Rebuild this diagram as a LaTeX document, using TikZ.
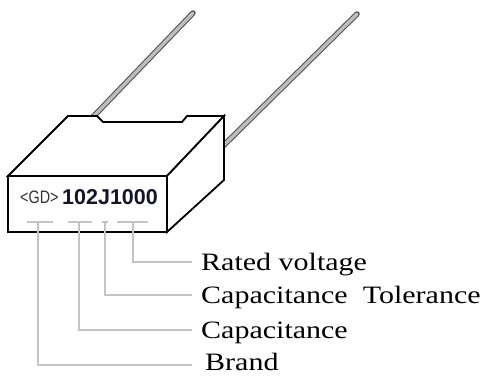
\documentclass[tikz,border=0pt]{standalone}
\usepackage{fontspec}
\setmainfont{Liberation Serif}
\newfontfamily\lblfont[FakeStretch=1.2]{Liberation Serif}
\newfontfamily\digfont{Liberation Sans}
\newfontfamily\logofont[FakeStretch=0.8]{Liberation Sans}
\definecolor{leader}{HTML}{C4C4C4}
\definecolor{leadfill}{HTML}{BDBDBD}
\definecolor{leadedge}{HTML}{505050}
\definecolor{marking}{HTML}{14142A}
\begin{document}
\begin{tikzpicture}[x=1pt,y=-1pt,
  box/.style={draw=black,line width=1.8pt,fill=white,line join=miter},
  wireedge/.style={line width=5.5pt,draw=leadedge,line cap=round},
  wirecore/.style={line width=3.4pt,draw=leadfill,line cap=round},
  leaderline/.style={draw=leader,line width=1.3pt},
  lbl/.style={anchor=west,inner sep=0pt,font=\lblfont\fontsize{25}{30}\selectfont,text height=16.5pt,text depth=0pt}]
\useasboundingbox (0,0) rectangle (490,376);
% leads
\draw[wireedge] (92,118) -- (193,13);
\draw[wirecore] (92,118) -- (193,13);
\draw[wireedge] (222,147) -- (357,14);
\draw[wirecore] (222,147) -- (357,14);
% body
\filldraw[box] (8,176) -- (68,116) -- (97,116) -- (103,122) -- (182,122) -- (187,116) -- (224,116) -- (167,176) -- cycle;
\filldraw[box] (224,116) -- (224,180) -- (167,232) -- (167,176) -- cycle;
\filldraw[box] (8,176) rectangle (167,232);
% marking
\node[anchor=west,inner sep=0pt,font=\logofont\fontsize{18}{18}\selectfont,text=black!80] (logo) at (20,197.5) {<GD>};
\node[anchor=west,inner sep=0pt,font=\digfont\bfseries\fontsize{21.5}{22}\selectfont,text=marking] (code) at (62,197) {102J1000};
% ticks
\draw[leaderline] (27,222) -- (53,222);
\draw[leaderline] (68,222) -- (92,222);
\draw[leaderline] (102,222) -- (108,222);
\draw[leaderline] (117,222) -- (148,222);
\coordinate (tb) at (38,222);
\coordinate (tc) at (79,222);
\coordinate (tt) at (105,222);
\coordinate (tr) at (133,222);
% labels
\node[lbl] (rated) at (201,262) {Rated voltage};
\node[lbl] (tol) at (201,295) {Capacitance\ \ Tolerance};
\node[lbl] (cap) at (201,330) {Capacitance};
\node[lbl] (brand) at (205,362) {Brand};
% leaders
\draw[leaderline] (tr) |- ([xshift=-9pt]rated.west);
\draw[leaderline] (tt) |- ([xshift=-9pt]tol.west);
\draw[leaderline] (tc) |- ([xshift=-9pt]cap.west);
\draw[leaderline] (tb) |- ([xshift=-13pt,yshift=-3pt]brand.west);
\end{tikzpicture}
\end{document}
